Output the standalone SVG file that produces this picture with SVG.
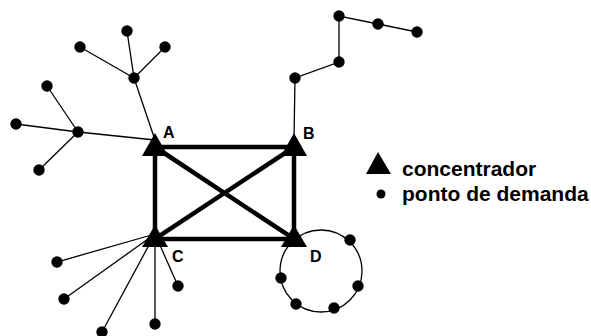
<svg xmlns="http://www.w3.org/2000/svg" width="591" height="336" viewBox="0 0 591 336">
  <style>
    .thin { stroke: #000; stroke-width: 1.3; fill: none; }
    .thick { stroke: #000; stroke-width: 4.5; fill: none; stroke-linecap: square; }
    .dot { fill: #000; }
    .tri { fill: #000; }
    .lbl { font-family: "Liberation Sans", Arial, sans-serif; font-weight: bold; font-size: 16px; fill: #000; }
    .leg { font-family: "Liberation Sans", Arial, sans-serif; font-weight: bold; font-size: 21px; fill: #000; }
  </style>

  <!-- connectors -->
  <g id="connectors">
    <!-- backbone between concentrators -->
    <rect class="thick" x="155" y="147" width="139" height="92"/>
    <line class="thick" x1="155" y1="147" x2="294" y2="239"/>
    <line class="thick" x1="294" y1="147" x2="155" y2="239"/>
    <!-- tree at A -->
    <line class="thin" x1="155" y1="140" x2="134" y2="78"/>
    <line class="thin" x1="134" y1="78" x2="127" y2="31"/>
    <line class="thin" x1="134" y1="78" x2="80" y2="47"/>
    <line class="thin" x1="134" y1="78" x2="165" y2="47"/>
    <line class="thin" x1="155" y1="140" x2="78" y2="132"/>
    <line class="thin" x1="78" y1="132" x2="47" y2="86"/>
    <line class="thin" x1="78" y1="132" x2="16" y2="124"/>
    <line class="thin" x1="78" y1="132" x2="39" y2="170"/>
    <!-- chain at B -->
    <polyline class="thin" points="294,140 295,78 339,62 339,16 378,24 417,32"/>
    <!-- star at C -->
    <line class="thin" x1="155" y1="234" x2="57" y2="262"/>
    <line class="thin" x1="155" y1="234" x2="64" y2="299"/>
    <line class="thin" x1="155" y1="234" x2="102" y2="332"/>
    <line class="thin" x1="155" y1="234" x2="155" y2="324"/>
    <line class="thin" x1="155" y1="234" x2="178" y2="286"/>
    <!-- ring at D -->
    <circle class="thin" cx="321" cy="271" r="41"/>
  </g>

  <!-- concentrators -->
  <g id="A">
    <polygon class="tri" points="155,133 142,156 168,156"/>
    <text class="lbl" x="163" y="138">A</text>
  </g>
  <g id="B">
    <polygon class="tri" points="294,133 281,156 307,156"/>
    <text class="lbl" x="303" y="139">B</text>
  </g>
  <g id="C">
    <polygon class="tri" points="155,225 142,247 168,247"/>
    <text class="lbl" x="172" y="262">C</text>
  </g>
  <g id="D">
    <polygon class="tri" points="294,225 281,247 307,247"/>
    <text class="lbl" x="310" y="262">D</text>
  </g>

  <!-- demand points -->
  <g id="demand-A">
    <circle class="dot" cx="134" cy="78" r="5.7"/>
    <circle class="dot" cx="127" cy="31" r="5.7"/>
    <circle class="dot" cx="80" cy="47" r="5.7"/>
    <circle class="dot" cx="165" cy="47" r="5.7"/>
    <circle class="dot" cx="78" cy="132" r="5.7"/>
    <circle class="dot" cx="47" cy="86" r="5.7"/>
    <circle class="dot" cx="16" cy="124" r="5.7"/>
    <circle class="dot" cx="39" cy="170" r="5.7"/>
  </g>
  <g id="demand-B">
    <circle class="dot" cx="295" cy="78" r="5.7"/>
    <circle class="dot" cx="339" cy="62" r="5.7"/>
    <circle class="dot" cx="339" cy="16" r="5.7"/>
    <circle class="dot" cx="378" cy="24" r="5.7"/>
    <circle class="dot" cx="417" cy="32" r="5.7"/>
  </g>
  <g id="demand-C">
    <circle class="dot" cx="57" cy="262" r="5.7"/>
    <circle class="dot" cx="64" cy="299" r="5.7"/>
    <circle class="dot" cx="102" cy="332" r="5.7"/>
    <circle class="dot" cx="155" cy="324" r="5.7"/>
    <circle class="dot" cx="178" cy="286" r="5.7"/>
  </g>
  <g id="demand-D">
    <circle class="dot" cx="350" cy="240" r="5.7"/>
    <circle class="dot" cx="358" cy="286" r="5.7"/>
    <circle class="dot" cx="334" cy="308" r="5.7"/>
    <circle class="dot" cx="296" cy="304" r="5.7"/>
    <circle class="dot" cx="281" cy="278" r="5.7"/>
  </g>

  <!-- legend -->
  <g id="legend">
    <polygon class="tri" points="378,152 366,174 391,174"/>
    <text class="leg" x="402" y="176">concentrador</text>
    <circle class="dot" cx="381" cy="194" r="4.5"/>
    <text class="leg" x="402" y="201">ponto de demanda</text>
  </g>
</svg>
